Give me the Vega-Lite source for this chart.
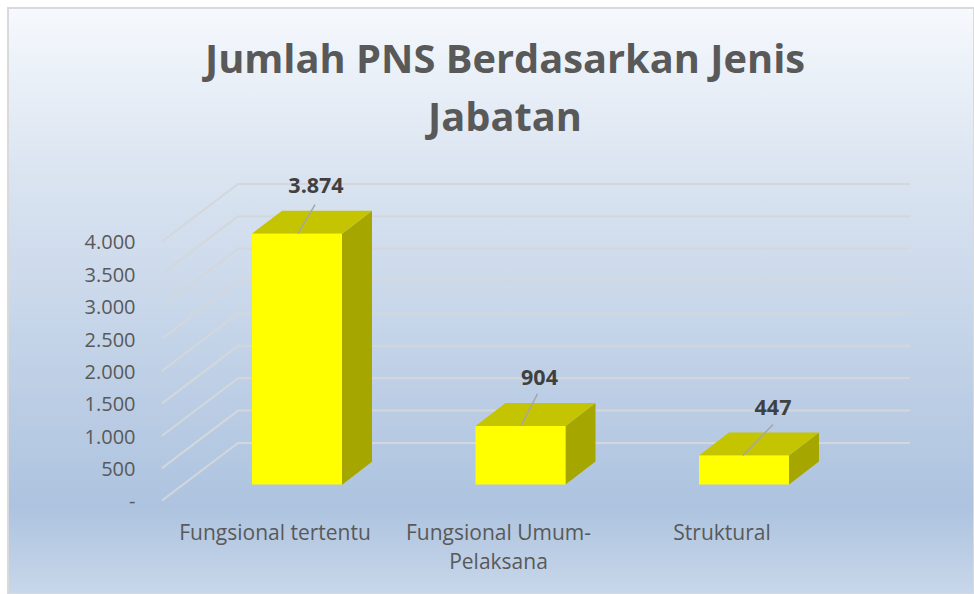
{
  "$schema": "https://vega.github.io/schema/vega-lite/v6.json",
  "width": 966,
  "height": 586,
  "autosize": {"type": "none"},
  "padding": {"left": 8, "top": 8, "right": 0, "bottom": 0},
  "background": "#ffffff",
  "title": {
    "text": ["Jumlah PNS Berdasarkan Jenis", "Jabatan"],
    "font": "Open Sans",
    "fontSize": 39.8,
    "fontWeight": "bold",
    "color": "#595959",
    "lineHeight": 58,
    "anchor": "middle",
    "dx": 14,
    "offset": -132
  },
  "config": {
    "locale": {"number": {"decimal": ",", "thousands": ".", "grouping": [3], "currency": ["", ""]}},
    "font": "Open Sans"
  },
  "view": {
    "stroke": "#d9d9d9",
    "strokeWidth": 2,
    "fill": {
      "gradient": "linear",
      "x1": 0, "y1": 0, "x2": 0, "y2": 1,
      "stops": [
        {"offset": 0, "color": "#f6f9fd"},
        {"offset": 0.25, "color": "#dde6f2"},
        {"offset": 0.85, "color": "#adc3df"},
        {"offset": 1, "color": "#c8d7ea"}
      ]
    }
  },
  "datasets": {
    "jabatan": [
      {"jabatan": "Fungsional tertentu", "jumlah": 3874},
      {"jabatan": "Fungsional Umum-Pelaksana", "jumlah": 904},
      {"jabatan": "Struktural", "jumlah": 447}
    ],
    "ticks": [
      {"tick": 0}, {"tick": 500}, {"tick": 1000}, {"tick": 1500}, {"tick": 2000},
      {"tick": 2500}, {"tick": 3000}, {"tick": 3500}, {"tick": 4000}
    ]
  },
  "encoding": {
    "y": {
      "type": "quantitative",
      "scale": {"domain": [-1444, 7606], "nice": false, "zero": false}
    }
  },
  "layer": [
    {
      "data": {"name": "ticks"},
      "mark": {
        "type": "point",
        "filled": false,
        "size": 4,
        "opacity": 1,
        "stroke": "#d3d7dc",
        "strokeWidth": 2,
        "shape": "M-329,0L-253,-57.5L419,-57.5"
      },
      "encoding": {
        "y": {
          "field": "tick",
          "type": "quantitative",
          "axis": {
            "values": [0, 500, 1000, 1500, 2000, 2500, 3000, 3500, 4000],
            "title": null,
            "domain": false,
            "ticks": false,
            "grid": false,
            "offset": -127,
            "labelPadding": 0,
            "labelOffset": 1.5,
            "labelFont": "Open Sans",
            "labelFontSize": 20,
            "labelColor": "#595959",
            "labelExpr": "datum.value === 0 ? '-' : replace(format(datum.value, ','), ',', '.')"
          }
        }
      }
    },
    {
      "data": {"name": "jabatan"},
      "resolve": {"scale": {"shape": "independent"}},
      "layer": [
        {
          "mark": {"type": "point", "filled": true, "size": 4, "opacity": 1, "fill": "#a6a600", "strokeWidth": 0},
          "encoding": {
            "x": {"field": "jabatan", "type": "nominal"},
            "y": {"field": "jumlah", "type": "quantitative"},
            "shape": {
              "field": "jabatan",
              "type": "nominal",
              "legend": null,
              "scale": {
                "domain": ["Fungsional tertentu", "Fungsional Umum-Pelaksana", "Struktural"],
                "range": [
                  "M67,-16L97,-39L97,212L67,235Z",
                  "M67,-16L97,-39L97,19.5L67,42.5Z",
                  "M67,-16L97,-39L97,-10L67,13Z"
                ]
              }
            }
          }
        },
        {
          "mark": {
            "type": "point",
            "filled": true,
            "size": 4,
            "opacity": 1,
            "fill": "#c4c400",
            "strokeWidth": 0,
            "shape": "M-23,-16L67,-16L97,-39L7,-39Z"
          },
          "encoding": {
            "x": {"field": "jabatan", "type": "nominal"},
            "y": {"field": "jumlah", "type": "quantitative"}
          }
        },
        {
          "mark": {"type": "bar", "size": 90, "xOffset": 22, "yOffset": -16, "y2Offset": -16, "color": "#ffff00"},
          "encoding": {
            "x": {
              "field": "jabatan",
              "type": "nominal",
              "scale": {
                "domain": ["Fungsional tertentu", "Fungsional Umum-Pelaksana", "Struktural"],
                "range": [155.25, 825.75],
                "paddingInner": 0,
                "paddingOuter": 0
              },
              "axis": {
                "title": null,
                "domain": false,
                "ticks": false,
                "grid": false,
                "labelAngle": 0,
                "labelAlign": "center",
                "offset": -63,
                "labelPadding": 2,
                "labelFont": "Open Sans",
                "labelFontSize": 21,
                "labelColor": "#595959",
                "labelLineHeight": 29,
                "labelLimit": 300,
                "labelExpr": "datum.value === 'Fungsional Umum-Pelaksana' ? ['Fungsional Umum-', 'Pelaksana'] : datum.label"
              }
            },
            "y": {"field": "jumlah", "type": "quantitative", "title": null}
          }
        },
        {
          "mark": {"type": "point", "filled": false, "size": 4, "opacity": 1, "stroke": "#a6a6a6", "strokeWidth": 1.5},
          "encoding": {
            "x": {"field": "jabatan", "type": "nominal"},
            "y": {"field": "jumlah", "type": "quantitative"},
            "shape": {
              "field": "jabatan",
              "type": "nominal",
              "legend": null,
              "scale": {
                "domain": ["Fungsional tertentu", "Fungsional Umum-Pelaksana", "Struktural"],
                "range": [
                  "M23,-16L40,-45",
                  "M22.5,-16L39,-48",
                  "M21,-16L51,-47"
                ]
              }
            }
          }
        },
        {
          "mark": {
            "type": "text",
            "font": "Open Sans",
            "fontSize": 21.5,
            "fontWeight": "bold",
            "color": "#404040",
            "baseline": "middle",
            "dy": -63,
            "dx": {"expr": "datum.jabatan === 'Struktural' ? 51 : 41"}
          },
          "encoding": {
            "x": {"field": "jabatan", "type": "nominal"},
            "y": {"field": "jumlah", "type": "quantitative"},
            "text": {"field": "jumlah", "type": "quantitative", "format": ","}
          }
        }
      ]
    }
  ]
}
